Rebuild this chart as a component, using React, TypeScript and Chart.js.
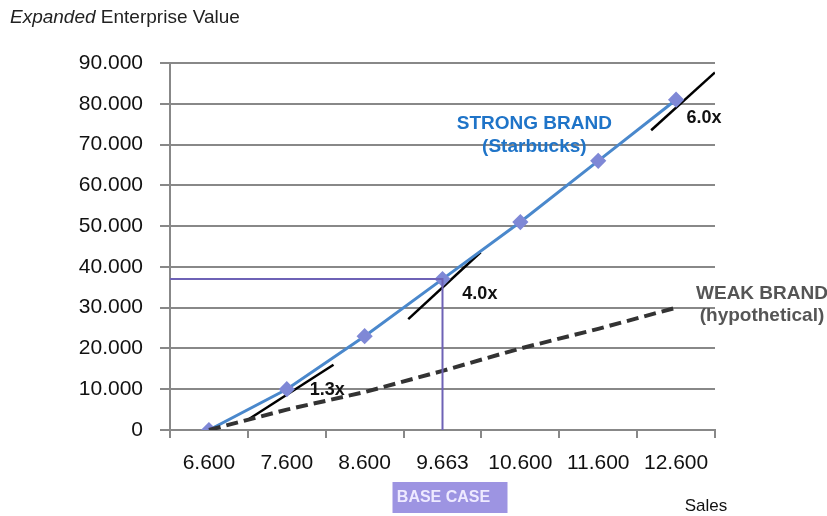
import React, { useEffect, useRef } from "react";
import { Chart, registerables } from "chart.js";

Chart.register(...registerables);

const categories = ["6.600", "7.600", "8.600", "9.663", "10.600", "11.600", "12.600"];
const strongBrand = [0, 10000, 23000, 37000, 51000, 66000, 81000];
const weakBrand = [0, 5000, 9300, 14500, 20000, 24800, 30000];
const yTicks = [0, 10000, 20000, 30000, 40000, 50000, 60000, 70000, 80000, 90000];
const baseCaseIndex = 3;
const baseCaseValue = 37000;
const tangent1 = [{ x: 0.5, y: 2500 }, { x: 1.6, y: 16000 }];
const tangent2 = [{ x: 2.56, y: 27200 }, { x: 3.49, y: 43600 }];
const tangent3 = [{ x: 5.68, y: 73500 }, { x: 6.5, y: 87700 }];
const multiples = [
  { text: "1.3x", x: 1.52, y: 9800 },
  { text: "4.0x", x: 3.48, y: 33300 },
  { text: "6.0x", x: 6.36, y: 76600 },
];

const FONT = "'Liberation Sans', Arial, sans-serif";

export default function App() {
  const ref = useRef<HTMLCanvasElement | null>(null);
  useEffect(() => {
    document.body.style.margin = "0";
    const textPlugin = {
      id: "texts",
      afterDatasetsDraw(chart: any) {
        const ctx = chart.ctx;
        const xs = chart.scales.x2;
        const ys = chart.scales.y;
        ctx.save();
        // title
        ctx.fillStyle = "#222";
        ctx.textBaseline = "middle";
        ctx.textAlign = "left";
        ctx.font = `italic 19px ${FONT}`;
        ctx.fillText("Expanded", 10, 18);
        const w = ctx.measureText("Expanded ").width;
        ctx.font = `19px ${FONT}`;
        ctx.fillText("Enterprise Value", 10 + w, 18);
        // multiples
        ctx.font = `bold 18px ${FONT}`;
        ctx.textAlign = "center";
        ctx.fillStyle = "#111";
        for (const m of multiples) {
          ctx.fillText(m.text, xs.getPixelForValue(m.x), ys.getPixelForValue(m.y));
        }
        // series labels
        ctx.font = `bold 19px ${FONT}`;
        ctx.fillStyle = "#1f74c8";
        ctx.fillText("STRONG BRAND", xs.getPixelForValue(4.18), ys.getPixelForValue(75100));
        ctx.fillText("(Starbucks)", xs.getPixelForValue(4.18), ys.getPixelForValue(69400));
        ctx.fillStyle = "#555";
        ctx.fillText("WEAK BRAND", 762, ys.getPixelForValue(33500));
        ctx.fillText("(hypothetical)", 762, ys.getPixelForValue(27900));
        // base case box
        const bx = xs.getPixelForValue(baseCaseIndex);
        ctx.fillStyle = "#9d94e2";
        ctx.fillRect(bx - 50, 482, 115, 31);
        ctx.fillStyle = "#eeeaff";
        ctx.font = `bold 16px ${FONT}`;
        ctx.fillText("BASE CASE", bx + 1, 498);
        // Sales
        ctx.fillStyle = "#111";
        ctx.font = `17px ${FONT}`;
        ctx.fillText("Sales", 706, 506);
        ctx.restore();
      },
    };
    const chart = new Chart(ref.current as HTMLCanvasElement, {
      type: "line",
      data: {
        labels: categories,
        datasets: [
          {
            label: "Base case",
            data: [
              { x: -0.5, y: baseCaseValue },
              { x: baseCaseIndex, y: baseCaseValue },
              { x: baseCaseIndex, y: 0 },
            ],
            xAxisID: "x2",
            borderColor: "#6e62b6",
            borderWidth: 2,
            pointRadius: 0,
            tension: 0,
          } as any,
          {
            label: "Weak brand",
            data: weakBrand,
            borderColor: "#333",
            borderWidth: 4,
            borderDash: [12, 6],
            pointRadius: 0,
          },
          {
            label: "Strong brand",
            data: strongBrand,
            borderColor: "#4a88cc",
            borderWidth: 3,
            pointStyle: "rectRot",
            pointRadius: 6,
            pointBackgroundColor: "#7f88d6",
            pointBorderColor: "#7f88d6",
          },
          ...[tangent1, tangent2, tangent3].map((t) => ({
            label: "tangent",
            data: t,
            xAxisID: "x2",
            borderColor: "#000",
            borderWidth: 2.5,
            pointRadius: 0,
          })) as any,
        ],
      },
      options: {
        animation: false,
        responsive: false,
        layout: { padding: { top: 63, right: 112, left: 0, bottom: 0 } },
        plugins: { legend: { display: false }, tooltip: { enabled: false } },
        scales: {
          x: {
            type: "category",
            offset: true,
            grid: { offset: true, drawOnChartArea: false, drawTicks: true, tickLength: 8, color: "#888", lineWidth: 2 },
            border: { color: "#888", width: 2 },
            ticks: { color: "#111", font: { family: FONT, size: 21 }, padding: 13 },
            afterFit: (s: any) => { s.height = 86; },
          },
          x2: {
            type: "linear",
            display: false,
            min: -0.5,
            max: 6.5,
          },
          y: {
            min: 0,
            max: 90000,
            afterBuildTicks: (s: any) => { s.ticks = yTicks.map((v) => ({ value: v })); },
            grid: { color: "#888", lineWidth: 2, tickLength: 10 },
            border: { color: "#888", width: 2 },
            ticks: {
              color: "#111",
              font: { family: FONT, size: 21 },
              padding: 17,
              callback: (v: any) => (v === 0 ? "0" : `${v / 1000}.000`),
            },
            afterFit: (s: any) => { s.width = 170; },
          },
        },
      },
      plugins: [textPlugin],
    });
    return () => chart.destroy();
  }, []);
  return (
    <div style={{ position: "absolute", left: 0, top: 0, width: 827, height: 516 }}>
      <canvas ref={ref} width={827} height={516} style={{ width: 827, height: 516 }} />
    </div>
  );
}
